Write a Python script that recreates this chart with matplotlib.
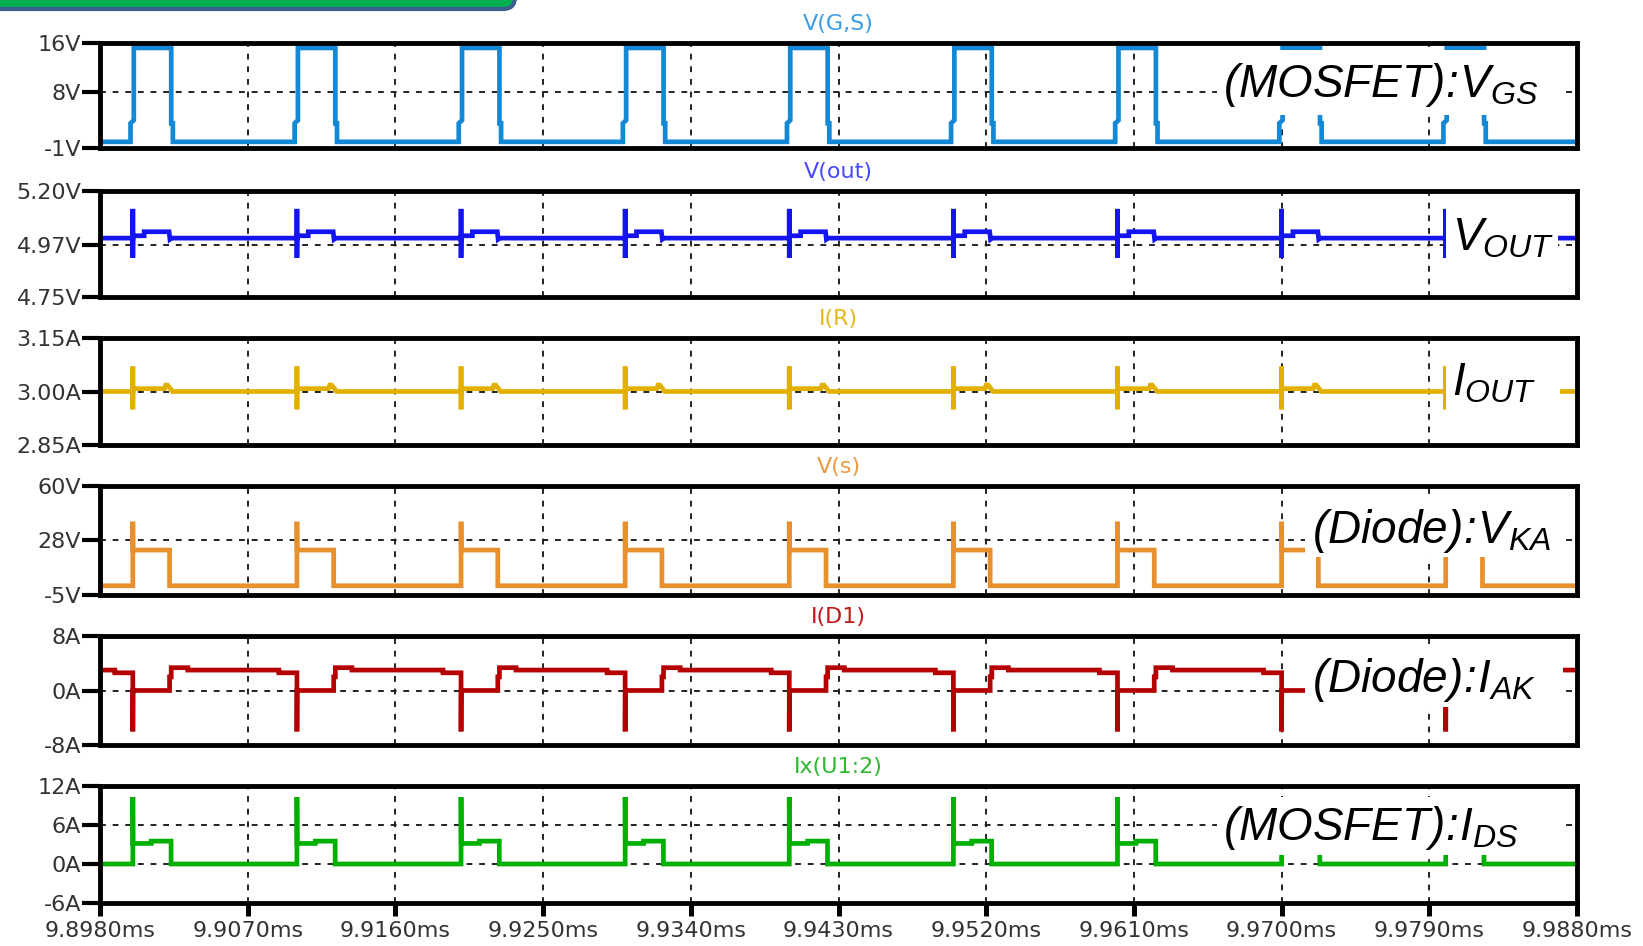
import matplotlib
matplotlib.use("Agg")
import matplotlib.pyplot as plt
from matplotlib.patches import Rectangle, FancyBboxPatch
from matplotlib.transforms import IdentityTransform

# time axis (ms)
t_start = 9.8980
t_end = 9.9880
x_ticks = [9.8980, 9.9070, 9.9160, 9.9250, 9.9340, 9.9430, 9.9520, 9.9610, 9.9700, 9.9790, 9.9880]
x_tick_labels = ["9.8980ms", "9.9070ms", "9.9160ms", "9.9250ms", "9.9340ms", "9.9430ms",
                 "9.9520ms", "9.9610ms", "9.9700ms", "9.9790ms", "9.9880ms"]

# switching edges (ms), one per 10 us period
edges = [9.890, 9.900, 9.910, 9.920, 9.930, 9.940, 9.950, 9.960, 9.970, 9.980]

# one period of each waveform: offset from the edge (ms) and value
vgs_off = [-0.00014, -0.00014, 0.00006, 0.00006, 0.00234, 0.00234, 0.00244, 0.00244]
vgs_val = [0.0, 3.0, 3.5, 15.2, 15.2, 3.0, 3.0, 0.0]

vout_off = [0.0, 0.0, 0.0, 0.00001, 0.00069, 0.00069, 0.00221, 0.00226, 0.00236]
vout_val = [5.0, 5.124, 4.916, 5.010, 5.010, 5.027, 5.027, 4.995, 5.0]

ir_off = [0.0, 0.0, 0.0, 0.00001, 0.00193, 0.00200, 0.00211, 0.00242]
ir_val = [3.0, 3.07, 2.95, 3.008, 3.008, 3.018, 3.018, 3.0]

vs_off = [0.0, 0.0, 0.00001, 0.00224, 0.00224]
vs_val = [0.5, 38.7, 21.8, 21.8, 0.5]

id1_off = [0.0, 0.0, 0.00001, 0.00224, 0.00224, 0.00234, 0.00234, 0.00335, 0.00335, 0.0089, 0.0089]
id1_val = [2.6, -6.0, 0.0, 0.0, 2.0, 2.0, 3.35, 3.35, 3.0, 3.0, 2.6]

ids_off = [0.0, 0.0, 0.00001, 0.00112, 0.00112, 0.00233, 0.00233]
ids_val = [0.0, 10.3, 3.16, 3.16, 3.52, 3.52, 0.0]

# panels
titles = ["V(G,S)", "V(out)", "I(R)", "V(s)", "I(D1)", "Ix(U1:2)"]
y_ticks = [[-1, 8, 16], [4.75, 4.97, 5.20], [2.85, 3.00, 3.15],
           [-5, 28, 60], [-8, 0, 8], [-6, 0, 6, 12]]
y_tick_labels = [["-1V", "8V", "16V"], ["4.75V", "4.97V", "5.20V"], ["2.85A", "3.00A", "3.15A"],
                 ["-5V", "28V", "60V"], ["-8A", "0A", "8A"], ["-6A", "0A", "6A", "12A"]]
labels = [r"$(MOSFET)\!:\!V_{GS}$", r"$V_{OUT}$", r"$I_{OUT}$",
          r"$(Diode)\!:\!V_{KA}$", r"$(Diode)\!:\!I_{AK}$", r"$(MOSFET)\!:\!I_{DS}$"]

trace_colors = ["#1388d6", "#1414f0", "#e2b000", "#e88f2e", "#b40000", "#00b000"]
title_colors = ["#3a9de2", "#4848ff", "#e6b820", "#eb9a40", "#c01818", "#30b830"]

# layout in pixels (figure 1643x946)
W, H = 1643, 946
ax_left, ax_right = 100, 1577
panel_px = [(43, 148), (191, 297), (338, 445), (486, 595), (636, 745), (786, 903)]
# white label boxes: x0, x1, ytop, ybottom ; text anchor: x, baseline y
box_px = [(1217, 1563, 50, 115), (1446, 1558, 200, 272), (1446, 1560, 355, 435),
          (1305, 1563, 495, 557), (1305, 1563, 645, 707), (1217, 1563, 797, 855)]
text_px = [(1223, 97), (1452, 250), (1452, 395), (1312, 543), (1312, 692), (1223, 840)]


def build(off, val):
    t, v = [], []
    for e in edges:
        t += [e + o for o in off]
        v += val
    t.append(t_end + 0.002)
    v.append(val[-1])
    return t, v


series = [build(vgs_off, vgs_val), build(vout_off, vout_val), build(ir_off, ir_val),
          build(vs_off, vs_val), build(id1_off, id1_val), build(ids_off, ids_val)]

plt.rcParams["font.family"] = ["DejaVu Sans"]
# labels are all italic Arial-like, including brackets and subscripts
plt.rcParams["mathtext.fontset"] = "custom"
plt.rcParams["mathtext.it"] = "Liberation Sans:italic"
plt.rcParams["mathtext.rm"] = "Liberation Sans:italic"

fig = plt.figure(figsize=(W / 100, H / 100), dpi=100)
fig.patch.set_facecolor("white")

# slide banner peeking in at the top left
fig.patches.append(FancyBboxPatch((-30, H - 9), 545, 40, boxstyle="round,pad=0,rounding_size=12",
                                  fc="#00b050", ec="#3a5f8f", lw=3,
                                  transform=IdentityTransform(), figure=fig))

for i, (top, bot) in enumerate(panel_px):
    ax = fig.add_axes([ax_left / W, 1 - bot / H, (ax_right - ax_left) / W, (bot - top) / H])
    t, v = series[i]
    ax.plot(t, v, color=trace_colors[i], lw=3.4, solid_joinstyle="miter", zorder=3)

    ax.set_xlim(t_start, t_end)
    ax.set_ylim(y_ticks[i][0], y_ticks[i][-1])
    ax.set_xticks(x_ticks)
    ax.set_yticks(y_ticks[i])
    ax.set_yticklabels(y_tick_labels[i])
    ax.set_axisbelow(True)
    ax.grid(True, color="#222222", lw=1.4, linestyle=(0, (3, 3.5)))

    for s in ax.spines.values():
        s.set_linewidth(3.5)
        s.set_color("black")
        s.set_zorder(7)

    ax.tick_params(axis="y", length=13, width=3, pad=0.5, labelsize=16, labelcolor="#333333")
    if i == len(panel_px) - 1:
        ax.set_xticklabels(x_tick_labels)
        ax.tick_params(axis="x", length=9, width=3.6, pad=4, labelsize=16, labelcolor="#333333")
    else:
        ax.tick_params(axis="x", bottom=False, labelbottom=False)

    ax.set_title(titles[i], color=title_colors[i], fontsize=16, pad=9.5)

    # label with white background covering the traces
    x0, x1, yt, yb = box_px[i]
    h = bot - top
    fx0 = (x0 - ax_left) / (ax_right - ax_left)
    fx1 = (x1 - ax_left) / (ax_right - ax_left)
    ax.add_patch(Rectangle((fx0, (bot - yb) / h), fx1 - fx0, (yb - yt) / h,
                           transform=ax.transAxes, fc="white", ec="none", zorder=5))
    tx, ty = text_px[i]
    ax.text((tx - ax_left) / (ax_right - ax_left), (bot - ty) / h, labels[i],
            transform=ax.transAxes, ha="left", va="baseline", fontsize=33, color="black", zorder=6)

fig.savefig("out.png", dpi=100, facecolor="white")
